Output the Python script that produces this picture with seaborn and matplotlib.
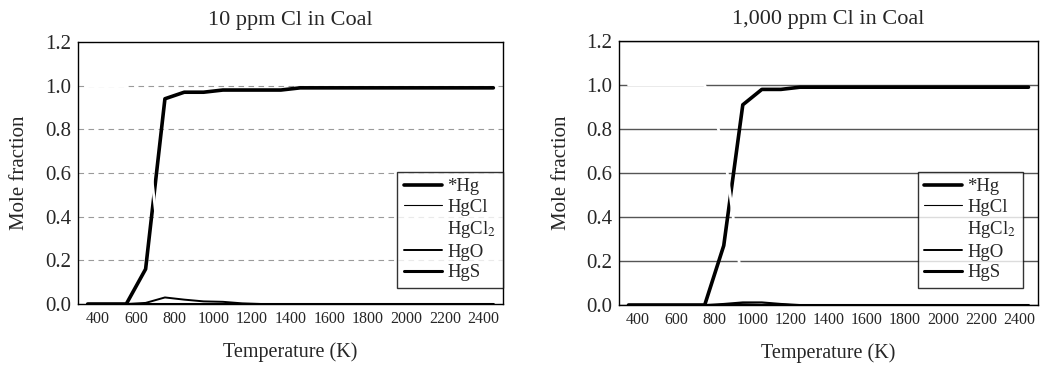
import matplotlib
matplotlib.use("Agg")
import matplotlib.pyplot as plt
import seaborn as sns
import numpy as np
import pandas as pd

# temperatures (K)
temps = [350, 450, 550, 650, 750, 850, 950, 1050, 1150, 1250, 1350, 1450,
         1550, 1650, 1750, 1850, 1950, 2050, 2150, 2250, 2350, 2450]

# 10 ppm Cl in coal
low_hg   = [0, 0, 0, 0.16, 0.94, 0.97, 0.97, 0.98, 0.98, 0.98, 0.98, 0.99,
            0.99, 0.99, 0.99, 0.99, 0.99, 0.99, 0.99, 0.99, 0.99, 0.99]
low_hgcl = [0] * 22
low_hgcl2 = [1.0, 1.0, 1.0, 0.835, 0.03, 0.01, 0.018, 0.01, 0.017, 0.02, 0.02, 0.01,
             0.01, 0.01, 0.01, 0.01, 0.01, 0.01, 0.01, 0.01, 0.01, 0.01]
low_hgo  = [0, 0, 0, 0.005, 0.03, 0.02, 0.012, 0.01, 0.003, 0, 0, 0,
            0, 0, 0, 0, 0, 0, 0, 0, 0, 0]
low_hgs  = [0] * 22

# 1,000 ppm Cl in coal
high_hg   = [0, 0, 0, 0, 0, 0.27, 0.91, 0.98, 0.98, 0.99, 0.99, 0.99,
             0.99, 0.99, 0.99, 0.99, 0.99, 0.99, 0.99, 0.99, 0.99, 0.99]
high_hgcl = [0, 0, 0, 0, 0, 0.003, 0.008, 0.01, 0.004, 0, 0, 0,
             0, 0, 0, 0, 0, 0, 0, 0, 0, 0]
high_hgcl2 = [1.0, 1.0, 1.0, 1.0, 1.0, 0.72, 0.07, 0.0, 0.01, 0.01, 0.01, 0.01,
              0.01, 0.01, 0.01, 0.01, 0.01, 0.01, 0.01, 0.01, 0.01, 0.01]
high_hgo  = [0, 0, 0, 0, 0, 0.005, 0.012, 0.012, 0.005, 0, 0, 0,
             0, 0, 0, 0, 0, 0, 0, 0, 0, 0]
high_hgs  = [0] * 22

species = ["*Hg", "HgCl", "HgCl$_2$", "HgO", "HgS"]
styles = {
    "*Hg": dict(color="black", lw=2.6, zorder=3),
    "HgCl$_2$": dict(color="white", lw=2.0, zorder=4),  # white curve, covers what it crosses
    "HgCl": dict(color="black", lw=0.8, zorder=5),
    "HgO": dict(color="black", lw=1.4, zorder=5),
    "HgS": dict(color="black", lw=2.2, zorder=5),
}

sns.set_style("white")
plt.rcParams["font.family"] = ["Liberation Serif", "DejaVu Serif"]
plt.rcParams["mathtext.fontset"] = "stix"

fig = plt.figure(figsize=(10.54, 3.65), dpi=100)
W, H = 1054, 365
ax1 = fig.add_axes([78 / W, 61 / H, 425 / W, 262 / H])
ax2 = fig.add_axes([619 / W, 60 / H, 419 / W, 264 / H])

panels = [
    (ax1, "10 ppm Cl in Coal", [low_hg, low_hgcl, low_hgcl2, low_hgo, low_hgs],
     dict(color="#9a9a9a", lw=0.8, ls=(0, (5, 4))), (1.0, 0.505)),
    (ax2, "1,000 ppm Cl in Coal", [high_hg, high_hgcl, high_hgcl2, high_hgo, high_hgs],
     dict(color="#555555", lw=1.0, ls="-"), (0.965, 0.505)),
]

for ax, title, series, gridkw, anchor in panels:
    df = pd.DataFrame({"T": temps})
    for name, vals in zip(species, series):
        df[name] = vals
    long = df.melt(id_vars="T", var_name="species", value_name="frac")
    for name in species:
        sub = long[long["species"] == name]
        sns.lineplot(data=sub, x="T", y="frac", ax=ax, label=name,
                     legend=False, **styles[name])
    ax.set_xlim(300, 2500)
    ax.set_ylim(0, 1.2)
    ax.set_xticks(np.arange(400, 2401, 200))
    ax.set_yticks(np.arange(0, 1.21, 0.2))
    ax.set_yticklabels([f"{v:.1f}" for v in np.arange(0, 1.21, 0.2)], fontsize=15)
    ax.set_xticklabels([str(v) for v in range(400, 2401, 200)], fontsize=11.5)
    ax.tick_params(direction="in", length=3, width=0.8, color="black", pad=5)
    ax.yaxis.grid(True, **gridkw)
    ax.set_axisbelow(True)
    for sp in ax.spines.values():
        sp.set_color("black")
        sp.set_linewidth(1.0)
    ax.set_title(title, fontsize=16, pad=12)
    ax.set_xlabel("Temperature (K)", fontsize=14.5)
    ax.set_ylabel("Mole fraction", fontsize=15)
    ax.yaxis.set_label_coords(-0.115, 0.5)
    ax.xaxis.set_label_coords(0.5, -0.145)

    handles = {l.get_label(): l for l in ax.get_lines()}
    leg = ax.legend([handles[s] for s in species], species, loc="upper right",
                    bbox_to_anchor=anchor, fontsize=13.5, frameon=True,
                    fancybox=False, edgecolor="black", handlelength=2.0,
                    handletextpad=0.3, labelspacing=0.18, borderpad=0.35,
                    borderaxespad=0)
    leg.get_frame().set_linewidth(1.0)
    leg.set_zorder(10)

fig.savefig("out.png", dpi=100)
